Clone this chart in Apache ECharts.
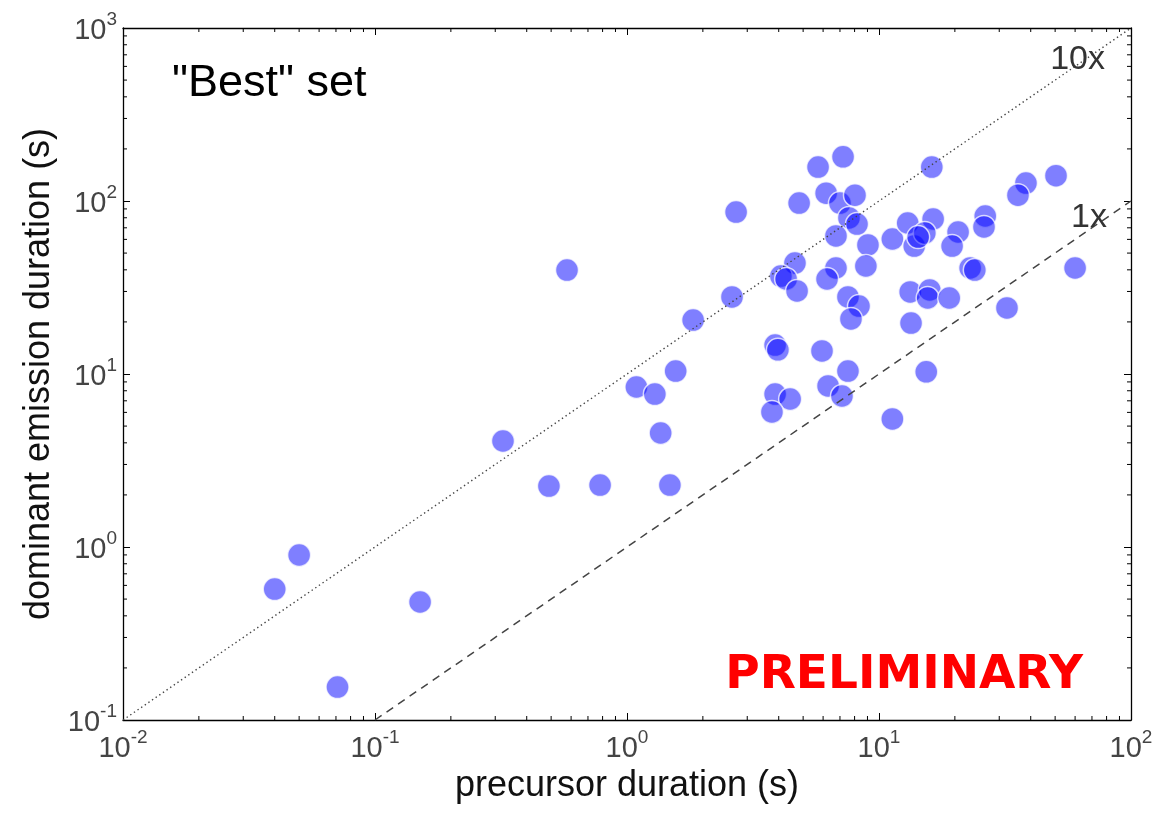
<!DOCTYPE html>
<html>
<head>
<meta charset="utf-8">
<script src="https://cdn.jsdelivr.net/npm/echarts@6/dist/echarts.min.js"></script>
<style>
html,body{margin:0;padding:0;background:#fff;}
#chart{width:1167px;height:813px;}
</style>
</head>
<body>
<div id="chart"></div>
<script>
// precursor duration (s)
const precursor = [0.040,0.050,0.071,0.151,0.322,0.49,0.578,0.782,1.09,1.29,1.36,1.48,1.56,1.83,2.61,2.71,3.87,3.97,3.87,4.44,3.76,4.64,4.08,4.28,4.73,4.82,5.73,7.20,6.17,7.00,8.03,7.60,8.18,6.75,9.04,8.87,6.75,6.22,7.53,8.33,7.74,5.94,7.53,6.28,7.13,16.2,38.3,35.6,50.4,11.3,13.0,16.4,13.8,15.2,14.3,20.6,19.5,26.4,26.1,23.0,24.0,13.3,15.9,15.6,19.0,13.4,32.2,60.0,15.4,11.3];
// dominant emission duration (s)
const dominant = [0.571,0.899,0.155,0.481,4.10,2.25,39.9,2.28,8.41,7.66,4.56,2.28,10.4,20.5,27.9,86.3,14.7,13.8,7.66,7.17,6.03,43.8,36.8,35.4,30.2,97.3,157,180,111,97.3,108,79.8,73.6,62.8,55.7,42.1,41.0,35.4,27.9,24.7,20.8,13.6,10.4,8.53,7.46,157,127,108,140,60.3,74.6,78.7,54.9,65.3,61.9,66.2,54.9,81.9,70.8,41.0,39.9,29.8,30.6,27.5,27.5,19.7,24.1,41.0,10.3,5.50];
// reference lines
const line10x = [[0.01, 0.1], [100, 1000]];
const line1x = [[0.1, 0.1], [100, 100]];
// axis ranges
const X_MIN = 0.01, X_MAX = 100;
const Y_MIN = 0.1, Y_MAX = 1000;
const minorDigits = [2,3,4,5,6,7,8,9];

const points = precursor.map((x, i) => [x, dominant[i]]);

function minorTicks(lo, hi) {
  const out = [];
  for (let e = Math.round(Math.log10(lo)); e < Math.round(Math.log10(hi)); e++) {
    minorDigits.forEach(d => out.push(d * Math.pow(10, e)));
  }
  return out;
}
const xMinor = minorTicks(X_MIN, X_MAX).map(v => [v, 1]);
const yMinor = minorTicks(Y_MIN, Y_MAX).map(v => [1, v]);

const FONT = '"Liberation Sans", Arial, sans-serif';
function powLabel(v) {
  const e = Math.round(Math.log10(v));
  return '{b|10}{s|' + (e < 0 ? '-' + (-e) : e) + '}';
}
const labelRich = {
  b: {fontSize: 29, lineHeight: 35, verticalAlign: 'bottom', color: '#444', fontFamily: FONT},
  s: {fontSize: 19, lineHeight: 22, verticalAlign: 'top', color: '#444', fontFamily: FONT}
};
const axisLineStyle = {show: true, lineStyle: {color: '#000', width: 1.3}};
const tickStyle = {show: true, inside: true, length: 7, lineStyle: {color: '#000', width: 1}};

const chart = echarts.init(document.getElementById('chart'), null, {renderer: 'canvas'});
const MINOR_LEN = 4;
chart.setOption({
  animation: false,
  backgroundColor: '#fff',
  grid: {left: 123, right: 36, top: 28, bottom: 93},
  xAxis: [{
    type: 'log', logBase: 10, min: X_MIN, max: X_MAX,
    name: 'precursor duration (s)', nameLocation: 'middle', nameGap: 46,
    nameTextStyle: {fontSize: 36, color: '#111', fontFamily: FONT},
    axisLine: axisLineStyle, axisTick: tickStyle, splitLine: {show: false},
    axisLabel: {formatter: powLabel, rich: labelRich, margin: 8, showMinLabel: true, showMaxLabel: true}
  }, {
    type: 'log', logBase: 10, min: X_MIN, max: X_MAX, position: 'top',
    axisLine: axisLineStyle, axisTick: tickStyle, splitLine: {show: false}, axisLabel: {show: false}
  }],
  yAxis: [{
    type: 'log', logBase: 10, min: Y_MIN, max: Y_MAX,
    name: 'dominant emission duration (s)', nameLocation: 'middle', nameGap: 62,
    nameTextStyle: {fontSize: 36, color: '#111', fontFamily: FONT},
    axisLine: axisLineStyle, axisTick: tickStyle, splitLine: {show: false},
    axisLabel: {formatter: powLabel, rich: labelRich, margin: 6, showMinLabel: true, showMaxLabel: true}
  }, {
    type: 'log', logBase: 10, min: Y_MIN, max: Y_MAX, position: 'right',
    axisLine: axisLineStyle, axisTick: tickStyle, splitLine: {show: false}, axisLabel: {show: false}
  }],
  series: [
    {
      type: 'scatter', data: points, symbol: 'circle', symbolSize: 23, z: 3,
      itemStyle: {color: 'rgba(0,0,255,0.5)', borderColor: 'rgba(255,255,255,0.75)', borderWidth: 1.5, opacity: 1},
      emphasis: {disabled: true}, silent: true
    },
    {
      type: 'line', data: line10x, showSymbol: false, symbol: 'none', z: 4, silent: true,
      lineStyle: {color: '#444', width: 1.4, type: [1.4, 3]}
    },
    {
      type: 'line', data: line1x, showSymbol: false, symbol: 'none', z: 4, silent: true,
      lineStyle: {color: '#444', width: 1.5, type: [8, 6]}
    },
    {
      type: 'custom', data: xMinor, silent: true, z: 5,
      renderItem: function (params, api) {
        const v = api.value(0);
        const b = api.coord([v, Y_MIN]);
        const t = api.coord([v, Y_MAX]);
        return {type: 'group', children: [
          {type: 'line', shape: {x1: b[0], y1: b[1], x2: b[0], y2: b[1] - MINOR_LEN}, style: {stroke: '#000', lineWidth: 1}},
          {type: 'line', shape: {x1: t[0], y1: t[1], x2: t[0], y2: t[1] + MINOR_LEN}, style: {stroke: '#000', lineWidth: 1}}
        ]};
      }
    },
    {
      type: 'custom', data: yMinor, silent: true, z: 5,
      renderItem: function (params, api) {
        const v = api.value(1);
        const l = api.coord([X_MIN, v]);
        const r = api.coord([X_MAX, v]);
        return {type: 'group', children: [
          {type: 'line', shape: {x1: l[0], y1: l[1], x2: l[0] + MINOR_LEN, y2: l[1]}, style: {stroke: '#000', lineWidth: 1}},
          {type: 'line', shape: {x1: r[0], y1: r[1], x2: r[0] - MINOR_LEN, y2: r[1]}, style: {stroke: '#000', lineWidth: 1}}
        ]};
      }
    }
  ],
  graphic: [
    {type: 'text', x: 172, y: 84, z: 10, style: {text: '"Best" set', font: '45px ' + FONT, fill: '#000', textVerticalAlign: 'middle'}},
    {type: 'text', x: 1105, y: 60, z: 10, style: {text: '10x', font: '34px ' + FONT, fill: '#333', textAlign: 'right', textVerticalAlign: 'middle'}},
    {type: 'text', x: 1107, y: 218, z: 10, style: {text: '1x', font: '34px ' + FONT, fill: '#333', textAlign: 'right', textVerticalAlign: 'middle'}},
    {type: 'text', x: 1083, y: 676, z: 10, style: {text: 'PRELIMINARY', font: 'bold 47px "DejaVu Sans", Verdana, sans-serif', fill: '#ff0000', textAlign: 'right', textVerticalAlign: 'middle'}}
  ]
});
</script>
</body>
</html>
